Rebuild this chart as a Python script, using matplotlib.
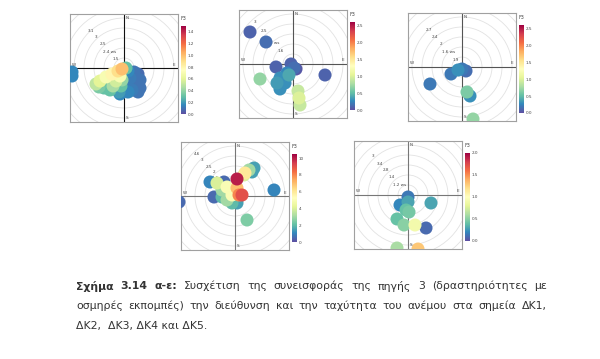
import matplotlib
matplotlib.use('Agg')
import matplotlib.pyplot as plt
from matplotlib.cm import ScalarMappable
from matplotlib.colors import Normalize
from matplotlib.patches import Circle
import numpy as np

FIG_W, FIG_H = 600, 359
CMAP = 'Spectral_r'
RINGS = [1, 2, 3, 4, 5, 6, 7]

# wind components (u east, v north, in ring units) and F3 contribution per panel

# ΔΚ1
P1_U = [0.4, 1.0, 1.4, 0.6, 1.2, 1.6, 0.6, 1.2, 1.6, 0.8, 1.4, 0.4, 0.2,
        -0.2, -0.6, -1.2, -1.8, -2.4, -2.8, -2.5, -2.0, -0.4, -0.8, -1.1, -1.4,
        -0.2, -0.3, -0.5, -0.4, -5.2, -5.2]
P1_V = [-0.3, -0.4, -0.6, -1.0, -1.2, -1.2, -1.6, -1.8, -2.0, -2.2, -2.4, -2.4, 0.0,
        -0.1, -0.3, -0.6, -0.9, -1.3, -1.6, -1.9, -2.0, -0.8, -1.3, -1.8, -2.2,
        -1.2, -1.8, -2.4, -2.6, -0.4, -0.8]
P1_F3 = [0.15, 0.1, 0.08, 0.12, 0.1, 0.1, 0.1, 0.08, 0.1, 0.12, 0.1, 0.15, 0.3,
         1.0, 0.9, 0.8, 0.7, 0.6, 0.5, 0.35, 0.3, 0.7, 0.55, 0.45, 0.3,
         0.4, 0.3, 0.2, 0.15, 0.15, 0.15]

# ΔΚ2
P2_U = [-4.3, -2.7, -1.7, -0.2, 0.3, -0.6, -1.3, -0.8, -1.6, -1.3, -3.3, 3.2,
        0.5, 0.6, 0.7, -0.4, 0.1]
P2_V = [3.2, 2.2, -0.3, 0.0, -0.5, -0.9, -1.4, -1.9, -1.9, -2.5, -1.5, -1.1,
        -2.7, -3.4, -4.1, -1.1, -0.4]
P2_F3 = [0.1, 0.15, 0.1, 0.1, 0.05, 0.25, 0.3, 0.3, 0.35, 0.3, 0.7, 0.1,
         0.9, 1.0, 0.9, 0.4, 0.15]

# ΔΚ3
P3_U = [0.0, 0.4, -0.4, -1.1, -3.2, 0.5, 0.8, 1.1]
P3_V = [-0.2, -0.4, -0.3, -0.7, -1.7, -2.5, -2.9, -5.2]
P3_F3 = [0.2, 0.15, 0.3, 0.2, 0.2, 0.6, 0.3, 0.7]

# ΔΚ4
P4_U = [0.2, 1.0, 1.7, 0.2, 0.4, 0.7, -0.3, -1.1, -2.5, -1.8, -1.3, -0.8,
        -2.1, -1.3, -0.8, 0.2, -0.3, 3.9, -5.6, 1.2, 0.9, 1.4, 1.9]
P4_V = [1.7, 2.3, 2.4, 0.8, 0.1, 0.1, 0.1, 1.4, 1.4, 1.3, 0.6, 0.9,
        -0.1, -0.1, -0.4, -0.7, -0.7, 0.6, -0.6, -2.4, 2.1, 2.6, 2.8]
P4_F3 = [10.0, 6.0, 1.5, 7.0, 8.0, 9.0, 5.0, 0.5, 1.0, 4.0, 3.0, 5.0,
         0.5, 2.0, 3.0, 1.5, 2.0, 1.0, 0.5, 2.5, 4.0, 3.0, 1.5]

# ΔΚ5
P5_U = [0.0, 0.0, -0.8, -0.2, 0.1, 2.3, -1.1, -0.4, 0.7, 1.8, -1.1, 1.0]
P5_V = [-0.2, -0.7, -1.0, -1.5, -1.7, -0.8, -2.4, -3.0, -3.0, -3.3, -5.3, -5.4]
P5_F3 = [0.15, 0.3, 0.2, 0.4, 0.45, 0.3, 0.4, 0.5, 0.9, 0.1, 0.6, 1.3]

P1_TICKS = [0, 0.2, 0.4, 0.6, 0.8, 1, 1.2, 1.4]
P2_TICKS = [0, 0.5, 1, 1.5, 2, 2.5]
P3_TICKS = [0, 0.5, 1, 1.5, 2, 2.5]
P4_TICKS = [0, 2, 4, 6, 8, 10]
P5_TICKS = [0, 0.5, 1, 1.5, 2]

P1_RING_LABELS = ['1.5', '2.4 ws', '2.5', '3', '3.1']
P2_RING_LABELS = ['1.6', '2 ws', '2.5', '3']
P3_RING_LABELS = ['1.9', '1.6 ws', '2', '2.4', '2.7']
P4_RING_LABELS = ['1.5 ws', '2', '2.5', '3', '4.6']
P5_RING_LABELS = ['1.2 ws', '1.4', '2.8', '3.4', '3']

CAPTION_BOLD = ['Σχήμα', '3.14', 'α-ε:']
CAPTION_L1 = 'Συσχέτιση της συνεισφοράς της πηγής 3 (δραστηριότητες με'
CAPTION_L2 = 'οσμηρές εκπομπές) την διεύθυνση και την ταχύτητα του ανέμου στα σημεία ΔΚ1,'
CAPTION_L3 = 'ΔΚ2,  ΔΚ3, ΔΚ4 και ΔΚ5.'


def px_rect(x, y, w, h):
    return [x / FIG_W, 1 - (y + h) / FIG_H, w / FIG_W, h / FIG_H]


def draw_panel(fig, cx, cy, u, v, f3, vmax, ticks, ring_labels, label_r, cross):
    ax = fig.add_axes(px_rect(cx - 54, cy - 54, 108, 108))
    ax.set_xlim(-5.4, 5.4)
    ax.set_ylim(-5.4, 5.4)
    ax.set_xticks([])
    ax.set_yticks([])
    for sp in ax.spines.values():
        sp.set_color('#a0a0a0')
        sp.set_linewidth(0.8)
    for r in RINGS:
        ax.add_patch(Circle((0, 0), r, fill=False, ec='#e2e2e2', lw=0.6, zorder=0))
    ax.axhline(0, color=cross, lw=0.8, zorder=1)
    ax.axvline(0, color=cross, lw=0.8, zorder=1)

    norm = Normalize(0, vmax)
    u, v, f3 = np.array(u), np.array(v), np.array(f3)
    order = np.argsort(f3)
    ax.scatter(u[order], v[order], c=f3[order], cmap=CMAP, norm=norm,
               s=88, linewidths=0, zorder=3)

    ang = np.deg2rad(318)
    for lab, r in zip(ring_labels, label_r):
        ax.text(r * np.sin(ang), r * np.cos(ang), lab, fontsize=3, color='#444444',
                ha='center', va='center', zorder=2)
    for lab, x, y in [('N', 0.35, 5.0), ('E', 5.0, 0.35), ('S', 0.35, -5.0), ('W', -5.0, 0.35)]:
        ax.text(x, y, lab, fontsize=3, color='#444444', ha='center', va='center')

    cax = fig.add_axes(px_rect(cx + 57, cy - 42, 5, 88))
    cb = fig.colorbar(ScalarMappable(norm=norm, cmap=CMAP), cax=cax, ticks=ticks)
    cb.outline.set_linewidth(0)
    cax.tick_params(labelsize=3, length=0, pad=1.5, colors='#444444')
    cax.set_title('F3', fontsize=3.5, pad=4, color='#444444')


def draw_justified(fig, renderer, words, y, x0, x1, size):
    texts = []
    for w, weight in words:
        t = fig.text(0, 1 - y / FIG_H, w, fontsize=size, fontweight=weight,
                     color='#333333', va='center', ha='left')
        texts.append(t)
    widths = [t.get_window_extent(renderer).width for t in texts]
    gap = (x1 - x0 - sum(widths)) / (len(words) - 1)
    x = x0
    for t, w in zip(texts, widths):
        t.set_x(x / FIG_W)
        x += w + gap


def main():
    fig = plt.figure(figsize=(6, 3.59), dpi=100)

    draw_panel(fig, 124, 68, P1_U, P1_V, P1_F3, 1.5, P1_TICKS, P1_RING_LABELS,
               [1.2, 2.2, 3.2, 4.2, 5.0], '#111111')
    draw_panel(fig, 293, 64, P2_U, P2_V, P2_F3, 2.6, P2_TICKS, P2_RING_LABELS,
               [1.8, 2.8, 4.4, 5.6], '#555555')
    draw_panel(fig, 462, 67, P3_U, P3_V, P3_F3, 2.6, P3_TICKS, P3_RING_LABELS,
               [1.0, 2.0, 3.1, 4.1, 5.0], '#555555')
    draw_panel(fig, 235, 196, P4_U, P4_V, P4_F3, 10.5, P4_TICKS, P4_RING_LABELS,
               [2.4, 3.2, 3.9, 4.9, 5.7], '#777777')
    draw_panel(fig, 408, 195, P5_U, P5_V, P5_F3, 2.0, P5_TICKS, P5_RING_LABELS,
               [1.3, 2.4, 3.3, 4.2, 5.2], '#777777')

    renderer = fig.canvas.get_renderer()
    size = 7.8
    line1 = [(w, 'bold') for w in CAPTION_BOLD] + [(w, 'normal') for w in CAPTION_L1.split()]
    line2 = [(w, 'normal') for w in CAPTION_L2.split()]
    draw_justified(fig, renderer, line1, 286, 76, 547, size)
    draw_justified(fig, renderer, line2, 306, 76, 547, size)
    fig.text(76 / FIG_W, 1 - 326 / FIG_H, CAPTION_L3, fontsize=size,
             color='#333333', va='center', ha='left')

    fig.savefig('out.png', dpi=100)


if __name__ == '__main__':
    main()
